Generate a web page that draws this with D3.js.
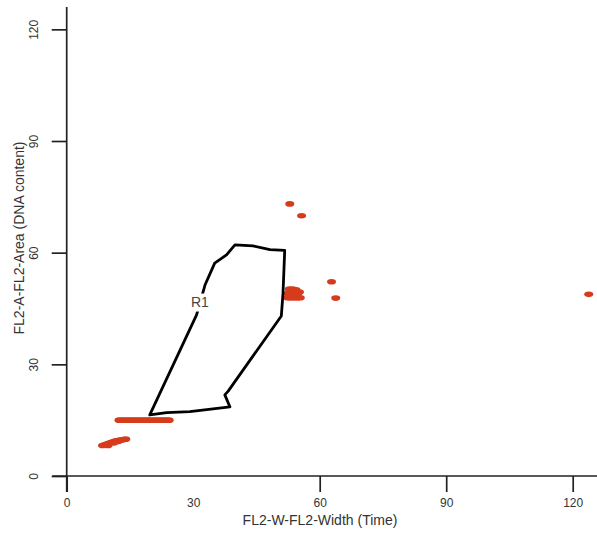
<!DOCTYPE html>
<html>
<head>
<meta charset="utf-8">
<script src="https://cdn.jsdelivr.net/npm/d3@7"></script>
<style>
	body { margin: 0; background: #fff; }
	svg text { font-family: "Liberation Sans", Arial, sans-serif; fill: #333; }
</style>
</head>
<body>
<svg id="plot"></svg>
<script>
// event positions
let eventX = [8.5, 9.0, 9.5, 10.0, 10.5, 11.0, 11.5, 12.0, 12.5, 13.0, 13.5, 14.0, 9.8, 11.2, 12.2,
	12.4, 13.0, 13.6, 14.2, 14.8, 15.4, 16.0, 16.6, 17.2, 17.8, 18.4, 19.0, 19.6, 20.2, 20.8, 21.4, 22.0, 22.6, 23.2, 23.8, 24.3,
	52.4, 53.0, 53.6, 54.2, 54.8, 55.4, 52.4, 53.0, 53.6, 54.2, 54.8, 55.2, 52.8, 53.6, 54.4,
	52.9, 55.7, 62.8, 63.8, 123.8];
let eventY = [8.2, 8.4, 8.6, 8.8, 9.0, 9.2, 9.4, 9.5, 9.6, 9.7, 9.8, 9.9, 8.2, 8.9, 9.3,
	15, 15, 15, 15, 15, 15, 15, 15, 15, 15, 15, 15, 15, 15, 15, 15, 15, 15, 15, 15, 15,
	47.9, 47.9, 47.9, 47.9, 47.9, 47.9, 49.0, 49.0, 49.0, 49.0, 49.0, 49.4, 50.2, 50.2, 50.0,
	73.1, 69.9, 52.2, 47.8, 48.8];

// gate R1 vertices
let gateX = [19.7, 30.8, 32.8, 35.1, 37.9, 39.9, 44.2, 48.2, 51.7, 51.3, 50.9, 38.3, 37.5, 38.7, 29.2, 23.7];
let gateY = [16.4, 43.3, 51.3, 57.2, 59.4, 62.1, 61.8, 60.8, 60.6, 49.1, 43.0, 22.8, 21.8, 18.6, 17.3, 17.0];
let gateName = 'R1';
let gateLabel = [31.6, 46.6];

let ticks = [0, 30, 60, 90, 120];
let xTitle = 'FL2-W-FL2-Width (Time)';
let yTitle = 'FL2-A-FL2-Area (DNA content)';

let canvasWidth = 597;
let canvasHeight = 536;

let svg = d3.select('#plot')
	.attr('width', canvasWidth)
	.attr('height', canvasHeight);

let x = d3.scaleLinear().domain([0, 126]).range([66.7, 598]);
let y = d3.scaleLinear().domain([0, 126]).range([476, 7]);

// events
svg.append('g').selectAll('ellipse')
	.data(d3.range(eventX.length)).enter()
	.append('ellipse')
		.attr('cx', (i) => x(eventX[i]))
		.attr('cy', (i) => y(eventY[i]))
		.attr('rx', 4.5)
		.attr('ry', 2.8)
		.attr('fill', '#d63c1c');

// gate
let lineFunc = d3.line().x((i) => x(gateX[i])).y((i) => y(gateY[i])).curve(d3.curveLinearClosed);
svg.append('path')
	.attr('d', lineFunc(d3.range(gateX.length)))
	.attr('fill', 'none')
	.attr('stroke', '#000')
	.attr('stroke-width', 2.8)
	.attr('stroke-linejoin', 'round');

svg.append('rect')
	.attr('x', x(gateLabel[0]) - 9)
	.attr('y', y(gateLabel[1]) - 9)
	.attr('width', 18)
	.attr('height', 18)
	.attr('fill', '#fff');
svg.append('text')
	.attr('x', x(gateLabel[0]))
	.attr('y', y(gateLabel[1]))
	.attr('dy', '0.35em')
	.attr('text-anchor', 'middle')
	.style('font-size', '14px')
	.style('fill', '#444')
	.text(gateName);

// axes
svg.append('line')
	.attr('x1', x(-3.4)).attr('x2', canvasWidth)
	.attr('y1', y(0)).attr('y2', y(0))
	.attr('stroke', '#222').attr('stroke-width', 1.7);
svg.append('line')
	.attr('x1', x(0)).attr('x2', x(0))
	.attr('y1', y(126)).attr('y2', y(-4.3))
	.attr('stroke', '#222').attr('stroke-width', 1.7);

let xAxis = svg.append('g')
	.attr('transform', 'translate(0,' + y(0) + ')')
	.call(d3.axisBottom(x).tickValues(ticks).tickSize(16).tickPadding(6).tickSizeOuter(0));
xAxis.select('.domain').remove();
xAxis.selectAll('.tick line').attr('stroke', '#222').attr('stroke-width', 1.7)
	.filter((d) => d === 30).remove();
xAxis.selectAll('.tick text').attr('fill', '#333').style('font-size', '12px').style('font-family', '"Liberation Sans", Arial, sans-serif');

let yAxis = svg.append('g')
	.attr('transform', 'translate(' + x(0) + ',0)')
	.call(d3.axisLeft(y).tickValues(ticks).tickSize(15).tickSizeOuter(0));
yAxis.select('.domain').remove();
yAxis.selectAll('.tick line').attr('stroke', '#222').attr('stroke-width', 1.7);
yAxis.selectAll('.tick text').remove();
yAxis.selectAll('.tick').append('text')
	.attr('transform', 'translate(-33,0) rotate(-90)')
	.attr('text-anchor', 'middle')
	.attr('dy', '0.35em')
	.attr('fill', '#333')
	.style('font-size', '12px')
	.style('font-family', '"Liberation Sans", Arial, sans-serif')
	.text((d) => d);

svg.append('text')
	.attr('x', 320)
	.attr('y', 525)
	.attr('text-anchor', 'middle')
	.style('font-size', '14px')
	.text(xTitle);

svg.append('text')
	.attr('transform', 'translate(19,238) rotate(-90)')
	.attr('text-anchor', 'middle')
	.attr('dy', '0.35em')
	.style('font-size', '14px')
	.text(yTitle);
</script>
</body>
</html>
